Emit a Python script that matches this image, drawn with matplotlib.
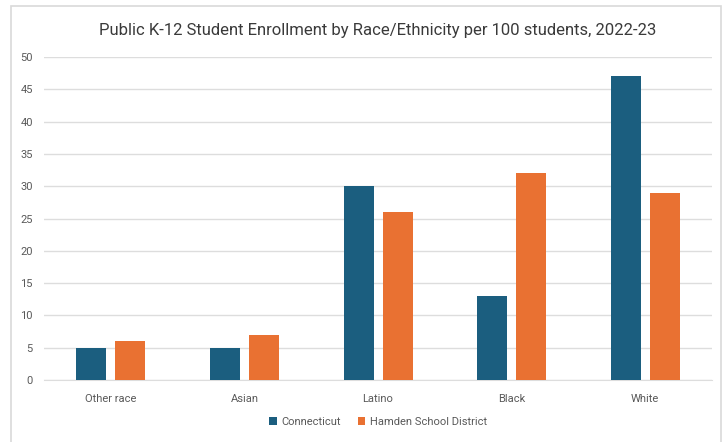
import numpy as np
import matplotlib
matplotlib.use("Agg")
import matplotlib.pyplot as plt
from matplotlib.patches import Rectangle

plt.rcParams['font.family'] = ['Roboto', 'DejaVu Sans']

# Enrollment per 100 students, 2022-23
categories = ["Other race", "Asian", "Latino", "Black", "White"]
connecticut = [5, 5, 30, 13, 47]
hamden = [6, 7, 26, 32, 29]
series_names = ["Connecticut", "Hamden School District"]

BLUE = "#1B5E7F"
ORANGE = "#E97132"
GRID = "#DDDDDD"
TEXT = "#595959"

fig = plt.figure(figsize=(7.23, 4.42), dpi=100)
ax = fig.add_axes([0.0609, 0.1403, 0.924, 0.7307])

# chart frame
fig.patches.append(Rectangle((11/723, -0.01), 710/723, 1 - 6/442 + 0.01,
                             transform=fig.transFigure, fill=False,
                             edgecolor="#D9D9D9", linewidth=1.2))

x = np.arange(len(categories))
w = 0.225
off = 0.146
ax.bar(x - off, connecticut, w, color=BLUE, label=series_names[0], zorder=3)
ax.bar(x + off, hamden, w, color=ORANGE, label=series_names[1], zorder=3)

ax.set_xlim(-0.5, len(categories) - 0.5)
ax.set_ylim(0, 50)
ax.set_yticks(np.arange(0, 51, 5))
ax.set_xticks(x)
ax.set_xticklabels(categories)
ax.yaxis.grid(True, color=GRID, linewidth=1, zorder=0)
ax.set_axisbelow(True)
for s in ax.spines.values():
    s.set_visible(False)
ax.spines['bottom'].set_visible(True)
ax.spines['bottom'].set_color(GRID)
ax.tick_params(length=0, labelsize=8, labelcolor=TEXT)
ax.tick_params(axis='x', pad=10)
ax.tick_params(axis='y', pad=8)

fig.text(0.523, 0.932, "Public K-12 Student Enrollment by Race/Ethnicity per 100 students, 2022-23",
         ha="center", va="center", fontsize=12, color="#3A3A3A")

fig.legend(loc="center", bbox_to_anchor=(0.523, 0.045), ncol=2, frameon=False,
           fontsize=8, labelcolor=TEXT, handlelength=0.7, handleheight=0.7,
           handletextpad=0.4, columnspacing=1.5)

fig.savefig("out.png", dpi=100)
